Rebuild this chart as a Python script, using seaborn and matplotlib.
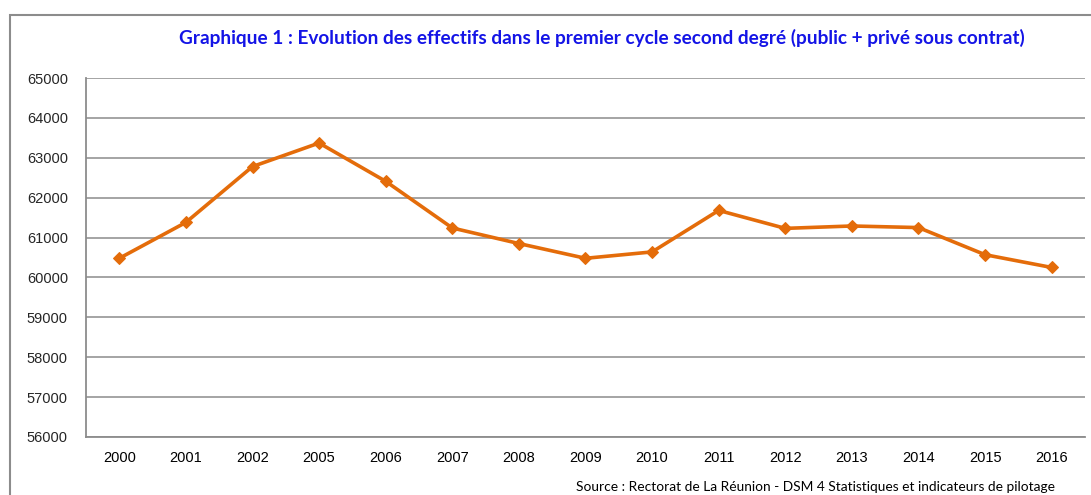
import numpy as np
import pandas as pd
import seaborn as sns
import matplotlib.pyplot as plt
from matplotlib.patches import Rectangle

years = ['2000', '2001', '2002', '2005', '2006', '2007', '2008', '2009',
         '2010', '2011', '2012', '2013', '2014', '2015', '2016']
effectifs = [60480, 61380, 62780, 63370, 62410, 61240, 60850, 60480,
             60640, 61680, 61230, 61290, 61250, 60570, 60250]
yticks = list(range(56000, 65001, 1000))

title = 'Graphique 1 : Evolution des effectifs dans le premier cycle second degré (public + privé sous contrat)'
source = 'Source : Rectorat de La Réunion - DSM 4 Statistiques et indicateurs de pilotage'

sns.set_style('white')
plt.rcParams['font.family'] = ['Liberation Sans', 'DejaVu Sans']

df = pd.DataFrame({'annee': years, 'effectif': effectifs})

fig = plt.figure(figsize=(10.91, 4.95), dpi=100)
ax = fig.add_axes([86 / 1091, 1 - 437 / 495, 999 / 1091, 359 / 495])

sns.lineplot(data=df, x='annee', y='effectif', ax=ax, color='#E46C0A',
             linewidth=2.6, marker='D', markersize=6, markeredgecolor='#E46C0A')

ax.set_ylim(56000, 65000)
ax.set_yticks(yticks)
ax.set_xlim(-0.5, len(years) - 0.5)
ax.set_xlabel('')
ax.set_ylabel('')
ax.grid(axis='y', color='#8c8c8c', linewidth=1.1)
ax.set_axisbelow(True)

for s in ['top', 'right']:
    ax.spines[s].set_visible(False)
for s in ['left', 'bottom']:
    ax.spines[s].set_color('#8c8c8c')
    ax.spines[s].set_linewidth(1.3)

ax.tick_params(axis='x', which='major', length=0, pad=10, labelsize=10.5, colors='black')
ax.set_xticks(np.arange(-0.5, len(years), 1), minor=True)
ax.tick_params(axis='x', which='minor', length=5, color='#8c8c8c', direction='out')
ax.tick_params(axis='y', length=5, color='#8c8c8c', direction='out', labelsize=10.5, pad=8)

fig.text(602 / 1091, 1 - 38 / 495, title, ha='center', va='center', color='#1414E6',
         fontsize=13.7, fontweight='bold', family=['Lato', 'DejaVu Sans'])
fig.text(1055 / 1091, 1 - 487 / 495, source, ha='right', va='center', color='black',
         fontsize=9.9, family=['Lato', 'DejaVu Sans'])

fig.patches.append(Rectangle((10 / 1091, -0.05), 1.1, 1.05 - 15 / 495,
                             transform=fig.transFigure, fill=False,
                             edgecolor='#8c8c8c', linewidth=1.5))

fig.savefig('out.png', dpi=100)
